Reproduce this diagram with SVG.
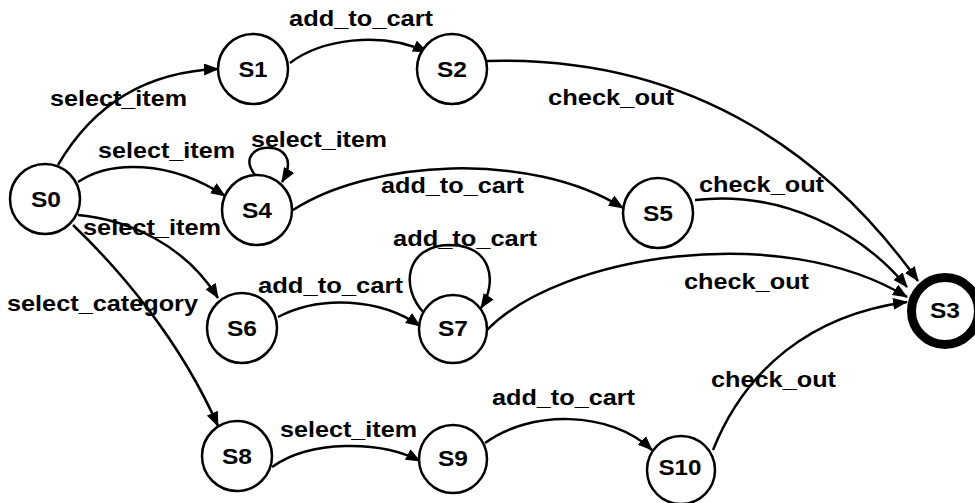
<svg xmlns="http://www.w3.org/2000/svg" width="975" height="503" viewBox="0 0 975 503">
<style>
.node circle{fill:#fff;stroke:#000;stroke-width:2.5}
.final circle{stroke-width:9}
.nl{font-family:"Liberation Sans",Arial,sans-serif;font-weight:bold;font-size:22px;text-anchor:middle;fill:#000}
.el{font-family:"Liberation Sans",Arial,sans-serif;font-weight:bold;font-size:22px;fill:#000}
.edge path{fill:none;stroke:#000;stroke-width:2.5;marker-end:url(#ah)}
</style>
<defs>
<marker id="ah" viewBox="0 0 15 12" refX="14" refY="6" markerWidth="15" markerHeight="12" orient="auto" markerUnits="userSpaceOnUse">
<path d="M0,0 L15,6 L0,12 z" fill="#000"/>
</marker>
</defs>
<rect width="975" height="503" fill="#fff"/>
<g id="connectors" class="edge">
<path d="M58,165 C90,110 140,72 218,69"/>
<path d="M290,63 C320,40 380,30 427,52"/>
<path d="M487,61 C700,55 835,165 918,281"/>
<path d="M78,182 C110,160 170,160 225,196"/>
<path d="M255,175 C228,140 310,135 282,182"/>
<path d="M293,210 C370,160 530,150 623,208"/>
<path d="M695,200 C780,190 860,230 907,287"/>
<path d="M78,215 C130,220 185,245 218,298"/>
<path d="M73,225 C120,270 180,340 218,426"/>
<path d="M278,317 C320,295 380,298 420,326"/>
<path d="M424,313 C400,288 405,246 449,245 C492,245 498,282 481,308"/>
<path d="M487,330 C560,255 780,220 907,297"/>
<path d="M272,467 C310,440 380,440 420,461"/>
<path d="M485,443 C530,410 610,410 652,450"/>
<path d="M713,450 C745,370 810,315 907,302"/>
</g>
<g id="edge-labels">
<text class="el" x="50" y="106" textLength="137" lengthAdjust="spacingAndGlyphs">select_item</text>
<text class="el" x="289" y="26" textLength="144" lengthAdjust="spacingAndGlyphs">add_to_cart</text>
<text class="el" x="548" y="105" textLength="126" lengthAdjust="spacingAndGlyphs">check_out</text>
<text class="el" x="98" y="158" textLength="137" lengthAdjust="spacingAndGlyphs">select_item</text>
<text class="el" x="251" y="147" textLength="136" lengthAdjust="spacingAndGlyphs">select_item</text>
<text class="el" x="381" y="193" textLength="143" lengthAdjust="spacingAndGlyphs">add_to_cart</text>
<text class="el" x="699" y="192" textLength="125" lengthAdjust="spacingAndGlyphs">check_out</text>
<text class="el" x="83" y="235" textLength="138" lengthAdjust="spacingAndGlyphs">select_item</text>
<text class="el" x="7" y="311" textLength="191" lengthAdjust="spacingAndGlyphs">select_category</text>
<text class="el" x="258" y="293" textLength="145" lengthAdjust="spacingAndGlyphs">add_to_cart</text>
<text class="el" x="393" y="246" textLength="144" lengthAdjust="spacingAndGlyphs">add_to_cart</text>
<text class="el" x="684" y="289" textLength="125" lengthAdjust="spacingAndGlyphs">check_out</text>
<text class="el" x="711" y="387" textLength="125" lengthAdjust="spacingAndGlyphs">check_out</text>
<text class="el" x="280" y="437" textLength="137" lengthAdjust="spacingAndGlyphs">select_item</text>
<text class="el" x="492" y="405" textLength="143" lengthAdjust="spacingAndGlyphs">add_to_cart</text>
</g>
<g id="S0" class="node"><circle cx="45" cy="199" r="35"/><text class="nl" x="46" y="207" textLength="30" lengthAdjust="spacingAndGlyphs">S0</text></g>
<g id="S1" class="node"><circle cx="253" cy="69" r="35"/><text class="nl" x="253" y="77" textLength="29" lengthAdjust="spacingAndGlyphs">S1</text></g>
<g id="S2" class="node"><circle cx="452" cy="69" r="35"/><text class="nl" x="452" y="77" textLength="30" lengthAdjust="spacingAndGlyphs">S2</text></g>
<g id="S3" class="node final"><circle cx="945" cy="311" r="33.5"/><text class="nl" x="945" y="318" textLength="30" lengthAdjust="spacingAndGlyphs">S3</text></g>
<g id="S4" class="node"><circle cx="257" cy="210" r="35"/><text class="nl" x="257" y="218" textLength="30" lengthAdjust="spacingAndGlyphs">S4</text></g>
<g id="S5" class="node"><circle cx="658" cy="213" r="35"/><text class="nl" x="658" y="221" textLength="30" lengthAdjust="spacingAndGlyphs">S5</text></g>
<g id="S6" class="node"><circle cx="242" cy="328" r="35"/><text class="nl" x="242" y="336" textLength="30" lengthAdjust="spacingAndGlyphs">S6</text></g>
<g id="S7" class="node"><circle cx="453" cy="329" r="34"/><text class="nl" x="453" y="336" textLength="30" lengthAdjust="spacingAndGlyphs">S7</text></g>
<g id="S8" class="node"><circle cx="237" cy="456" r="35"/><text class="nl" x="237" y="464" textLength="30" lengthAdjust="spacingAndGlyphs">S8</text></g>
<g id="S9" class="node"><circle cx="453" cy="459" r="34"/><text class="nl" x="453" y="466" textLength="30" lengthAdjust="spacingAndGlyphs">S9</text></g>
<g id="S10" class="node"><circle cx="681" cy="470" r="34"/><text class="nl" x="680" y="475" textLength="43" lengthAdjust="spacingAndGlyphs">S10</text></g>
</svg>
